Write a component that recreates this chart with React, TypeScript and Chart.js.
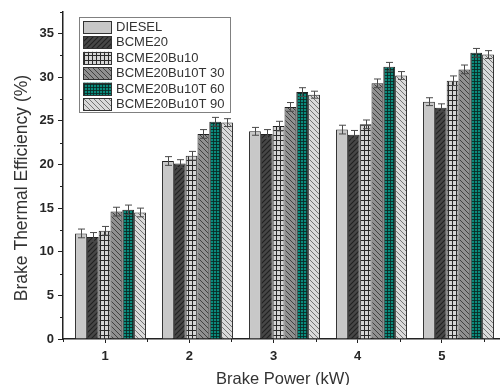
import React, { useEffect, useRef } from 'react';
import { Chart, registerables } from 'chart.js';

Chart.register(...registerables);

const FONT = '"Liberation Sans", Arial, sans-serif';

const categories = [1, 2, 3, 4, 5];
const xTickValues = [1, 2, 3, 4, 5];
const xMinorTicks = [0.5, 1.5, 2.5, 3.5, 4.5, 5.5];
const yTickValues = [0, 5, 10, 15, 20, 25, 30, 35];
const yMinorTicks = [2.5, 7.5, 12.5, 17.5, 22.5, 27.5, 32.5, 37.5];

const seriesNames = ['DIESEL', 'BCME20', 'BCME20Bu10', 'BCME20Bu10T 30', 'BCME20Bu10T 60', 'BCME20Bu10T 90'];

const diesel = [12.1, 20.4, 23.8, 24.0, 27.2];
const bcme20 = [11.7, 20.1, 23.5, 23.4, 26.5];
const bu10 = [12.4, 21.0, 24.4, 24.6, 29.6];
const t30 = [14.6, 23.5, 26.6, 29.3, 30.9];
const t60 = [14.8, 24.9, 28.3, 31.2, 32.8];
const t90 = [14.5, 24.8, 28.0, 30.2, 32.6];

const errDiesel = [0.5, 0.5, 0.45, 0.5, 0.45];
const errBcme20 = [0.5, 0.45, 0.5, 0.5, 0.45];
const errBu10 = [0.5, 0.5, 0.55, 0.5, 0.55];
const errT30 = [0.5, 0.5, 0.5, 0.5, 0.5];
const errT60 = [0.55, 0.5, 0.5, 0.5, 0.5];
const errT90 = [0.5, 0.45, 0.4, 0.45, 0.45];

const seriesValues = [diesel, bcme20, bu10, t30, t60, t90];
const seriesErrors = [errDiesel, errBcme20, errBu10, errT30, errT60, errT90];

function tile(w: number, h: number, bg: string, draw: (c: CanvasRenderingContext2D) => void): CanvasPattern | string {
  const cv = document.createElement('canvas');
  cv.width = w;
  cv.height = h;
  const c = cv.getContext('2d');
  if (!c) return bg;
  c.fillStyle = bg;
  c.fillRect(0, 0, w, h);
  draw(c);
  const p = c.createPattern(cv, 'repeat');
  return p || bg;
}

function diag(c: CanvasRenderingContext2D, s: number, color: string, up: boolean, lw: number) {
  c.strokeStyle = color;
  c.lineWidth = lw;
  c.beginPath();
  for (let k = -1; k <= 1; k++) {
    if (up) {
      c.moveTo(k * s - 1, s + 1);
      c.lineTo(k * s + s + 1, -1);
    } else {
      c.moveTo(k * s - 1, -1);
      c.lineTo(k * s + s + 1, s + 1);
    }
  }
  c.stroke();
}

function makePatterns(): (CanvasPattern | string)[] {
  const p0 = '#c8c8c8';
  const p1 = tile(5, 5, '#474747', (c) => diag(c, 5, '#222', true, 1.1));
  const p2 = tile(4, 5, '#d6d6d6', (c) => {
    c.fillStyle = '#2a2a2a';
    c.fillRect(0, 0, 1, 5);
    c.fillRect(0, 0, 4, 1);
  });
  const p3 = tile(5, 5, '#909090', (c) => diag(c, 5, '#404040', false, 1.0));
  const p4 = tile(3, 3, '#0a8a7c', (c) => {
    c.fillStyle = 'rgba(10,40,35,0.85)';
    c.fillRect(0, 0, 1, 3);
    c.fillRect(0, 0, 3, 1);
  });
  const p5 = tile(5, 5, '#dadada', (c) => diag(c, 5, '#747474', false, 1.0));
  return [p0, p1, p2, p3, p4, p5];
}

export default function App() {
  const ref = useRef<HTMLCanvasElement | null>(null);

  useEffect(() => {
    const canvas = ref.current;
    if (!canvas) return;
    const patterns = makePatterns();

    const datasets = seriesNames.map((name, i) => ({
      label: name,
      data: categories.map((x, j) => ({ x, y: seriesValues[i][j] })),
      backgroundColor: patterns[i],
      borderColor: '#222',
      borderWidth: 1,
      xAxisID: 'xb',
      yAxisID: 'y',
      categoryPercentage: 0.815,
      barPercentage: 1.0,
    }));

    const overlay = {
      id: 'overlay',
      afterDatasetsDraw(chart: any) {
        const ctx = chart.ctx as CanvasRenderingContext2D;
        const ys = chart.scales.y;
        ctx.save();
        ctx.strokeStyle = '#4a4a4a';
        ctx.lineWidth = 1;
        chart.data.datasets.forEach((ds: any, i: number) => {
          const meta = chart.getDatasetMeta(i);
          meta.data.forEach((el: any, j: number) => {
            const v = seriesValues[i][j];
            const e = seriesErrors[i][j];
            const x = Math.round(el.x) + 0.5;
            const yt = ys.getPixelForValue(v + e);
            const yb = ys.getPixelForValue(v - e);
            ctx.beginPath();
            ctx.moveTo(x, yt);
            ctx.lineTo(x, yb);
            ctx.moveTo(x - 3.5, yt);
            ctx.lineTo(x + 3.5, yt);
            ctx.moveTo(x - 3.5, yb);
            ctx.lineTo(x + 3.5, yb);
            ctx.stroke();
          });
        });
        ctx.restore();
      },
      afterDraw(chart: any) {
        const ctx = chart.ctx as CanvasRenderingContext2D;
        const ys = chart.scales.y;
        const xs = chart.scales.x;
        const area = chart.chartArea;
        ctx.save();
        // minor ticks
        ctx.strokeStyle = '#222';
        ctx.lineWidth = 1;
        ctx.beginPath();
        yMinorTicks.forEach((v) => {
          const y = Math.round(ys.getPixelForValue(v)) + 0.5;
          ctx.moveTo(area.left - 3, y);
          ctx.lineTo(area.left, y);
        });
        xMinorTicks.forEach((v) => {
          const x = Math.round(xs.getPixelForValue(v)) + 0.5;
          ctx.moveTo(x, area.bottom);
          ctx.lineTo(x, area.bottom + 3);
        });
        ctx.stroke();

        // axis titles
        ctx.fillStyle = '#333';
        ctx.textAlign = 'center';
        ctx.textBaseline = 'alphabetic';
        ctx.font = '16.5px ' + FONT;
        ctx.fillText('Brake Power (kW)', 283, 384);
        ctx.save();
        ctx.translate(27, 188);
        ctx.rotate(-Math.PI / 2);
        ctx.font = '17.5px ' + FONT;
        ctx.fillText('Brake Thermal Efficiency (%)', 0, 0);
        ctx.restore();

        // legend
        const lx = 79.5, ly = 17.5, lw = 151, lh = 95;
        ctx.fillStyle = '#fff';
        ctx.fillRect(lx, ly, lw, lh);
        ctx.strokeStyle = '#808080';
        ctx.lineWidth = 1;
        ctx.strokeRect(lx, ly, lw, lh);
        ctx.font = '13px ' + FONT;
        ctx.textAlign = 'left';
        ctx.textBaseline = 'middle';
        seriesNames.forEach((name, i) => {
          const sy = 21 + i * 15.4;
          ctx.fillStyle = patterns[i] as any;
          ctx.fillRect(83, sy, 29, 12.5);
          ctx.strokeStyle = '#333';
          ctx.strokeRect(83.5, Math.round(sy) + 0.5, 28, 12);
          ctx.fillStyle = '#333';
          ctx.fillText(name, 116, sy + 6.5);
        });
        ctx.restore();
      },
    };

    const chart = new Chart(canvas, {
      type: 'bar',
      data: { datasets: datasets as any },
      options: {
        responsive: false,
        animation: false,
        devicePixelRatio: 1,
        layout: { padding: { left: 0, right: 0, top: 11, bottom: 0 } },
        plugins: {
          legend: { display: false },
          tooltip: { enabled: false },
          title: { display: false },
        },
        scales: {
          xb: {
            type: 'linear',
            display: false,
            offset: false,
            min: 0.454,
            max: 5.477,
            grid: { offset: false },
          },
          x: {
            type: 'linear',
            position: 'bottom',
            offset: false,
            min: 0.5,
            max: 5.69,
            afterBuildTicks: (s: any) => {
              s.ticks = xTickValues.map((v) => ({ value: v }));
            },
            afterFit: (s: any) => {
              s.height = 46;
            },
            grid: {
              offset: false,
              drawOnChartArea: false,
              drawTicks: true,
              tickLength: 4,
              tickColor: '#222',
              tickWidth: 1,
            },
            border: { display: true, color: '#222', width: 1.5 },
            ticks: {
              color: '#262626',
              font: { family: FONT, size: 13, weight: 'bold' },
              padding: 6,
              maxRotation: 0,
              callback: (v: any) => String(v),
            },
          },
          y: {
            type: 'linear',
            min: 0,
            max: 37.5,
            afterBuildTicks: (s: any) => {
              s.ticks = yTickValues.map((v) => ({ value: v }));
            },
            afterFit: (s: any) => {
              s.width = 63;
            },
            grid: {
              drawOnChartArea: false,
              drawTicks: true,
              tickLength: 5,
              tickColor: '#222',
              tickWidth: 1,
            },
            border: { display: true, color: '#222', width: 1.5 },
            ticks: {
              color: '#262626',
              font: { family: FONT, size: 13, weight: 'bold' },
              padding: 4,
              callback: (v: any) => String(v),
            },
          },
        } as any,
      },
      plugins: [overlay],
    });

    return () => chart.destroy();
  }, []);

  return (
    <div style={{ position: 'absolute', left: 0, top: 0, width: 500, height: 385, overflow: 'hidden', background: '#fff' }}>
      <canvas ref={ref} width={500} height={385} style={{ display: 'block' }} />
    </div>
  );
}
